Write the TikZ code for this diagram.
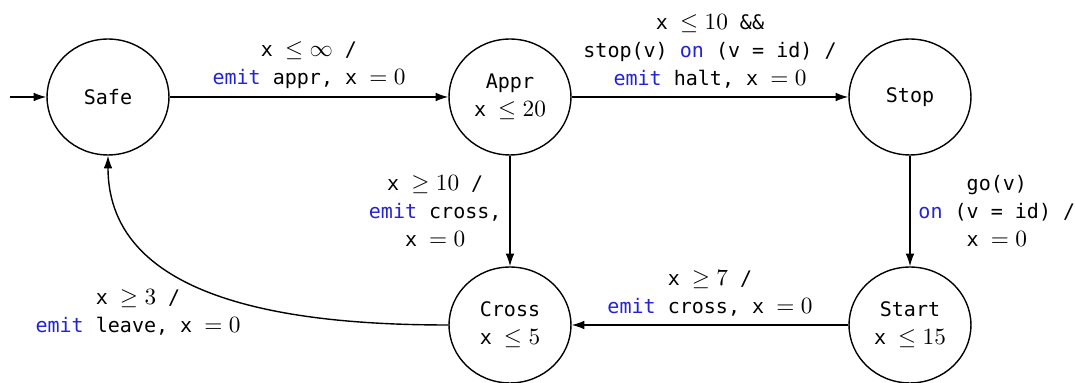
\documentclass[tikz,border=0pt]{standalone}
\usepackage{fontspec}
\setmonofont[Scale=0.86]{DejaVu Sans Mono}
\usetikzlibrary{arrows.meta,positioning,shapes.geometric}
\definecolor{kwBlue}{HTML}{2323D6}
\newcommand{\kwd}[1]{\textcolor{kwBlue}{#1}}

\tikzset{
  loc/.style={draw, semithick, ellipse, minimum width=1.84cm, minimum height=1.75cm, align=center, inner sep=0pt},
  trans/.style={semithick, -{Latex[length=1.9mm,width=1.3mm]}},
  lbl/.style={align=center, font=\ttfamily}
}

\begin{document}
\begin{tikzpicture}[x=0.01509cm, y=-0.01509cm, every node/.style={font=\ttfamily}]
    \useasboundingbox (0,0) rectangle (1075,383);
    % locations
    \node[loc] (safe) at (108,97) {Safe};
    \node[loc] (appr) at (510,97) {Appr\\x $\leq 20$};
    \node[loc] (stop) at (910,97) {Stop};
    \node[loc] (cross) at (510,325) {Cross\\x $\leq 5$};
    \node[loc] (start) at (910,325) {Start\\x $\leq 15$};
    \coordinate (init) at (10,97);
    % transitions
    \draw[trans] (init) -- (safe);
    \draw[trans] (safe) -- node[lbl, above] {x $\leq \infty$ /\\\kwd{emit} appr, x $= 0$} (appr);
    \draw[trans] (appr) -- node[lbl, above] {x $\leq 10$ \&\&\\stop(v) \kwd{on} (v = id) /\\\kwd{emit} halt, x $= 0$} (stop);
    \draw[trans] (appr) -- node[lbl, left] {x $\geq 10$ /\\\kwd{emit} cross,\\x $= 0$} (cross);
    \draw[trans] (stop) -- node[lbl, right] {go(v)\\\kwd{on} (v = id) /\\x $= 0$} (start);
    \draw[trans] (start) -- node[lbl, above] {x $\geq 7$ /\\\kwd{emit} cross, x $= 0$} (cross);
    \draw[trans] (cross) to[out=180, in=-90] node[lbl, pos=0.5, anchor=north east, xshift=0.4cm, yshift=0.22cm] {x $\geq 3$ /\\\kwd{emit} leave, x $= 0$} (safe);
\end{tikzpicture}
\end{document}
